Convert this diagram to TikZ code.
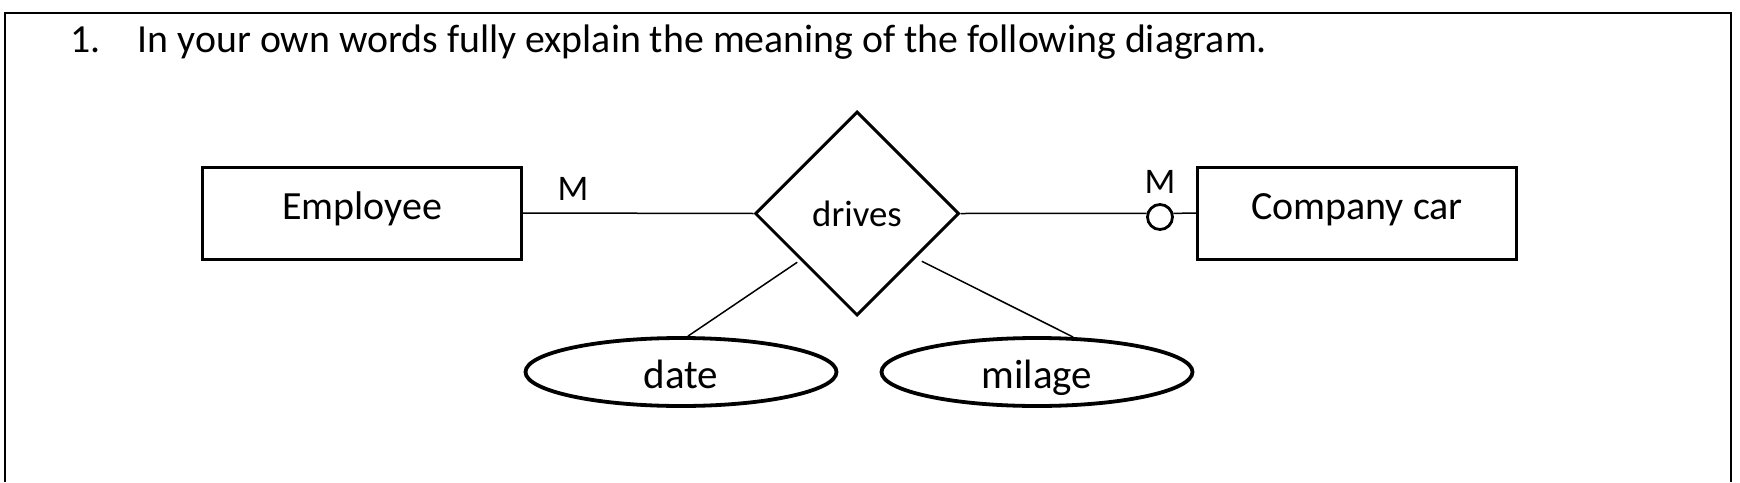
\documentclass[tikz,border=0pt]{standalone}
\usepackage{fontspec}
\setmainfont{Carlito}
\usetikzlibrary{shapes.geometric, positioning, calc}

\tikzset{
  entbox/.style={draw, line width=1.5pt, minimum width=159.5pt, minimum height=46pt, inner sep=0pt,
    text height=13pt, text depth=6.5pt, font=\fontsize{20}{24}\selectfont},
  relshape/.style={diamond, draw, line width=1.5pt, minimum width=102pt, minimum height=102pt, inner sep=0pt,
    font=\fontsize{18.4}{22}\selectfont},
  attrell/.style={ellipse, draw, line width=1.9pt, minimum width=155.5pt, minimum height=34pt, inner sep=0pt,
    text height=16.3pt, text depth=0pt, font=\fontsize{20.5}{24}\selectfont},
  card/.style={inner sep=0pt, font=\fontsize{18}{21}\selectfont},
  link/.style={line width=0.75pt}
}

\begin{document}
\begin{tikzpicture}[x=0.5pt,y=-0.5pt]
  \path[use as bounding box] (0,0) rectangle (1740,482);
  \draw[line width=1pt] (4.5,482) -- (4.5,13) -- (1731,13) -- (1731,482);

  % question
  \node[anchor=base west, inner sep=0pt, font=\fontsize{19.9}{24}\selectfont] (num) at (70,52) {1.};
  \node[anchor=base west, inner sep=0pt, font=\fontsize{19.9}{24}\selectfont] (question) at (137.5,52)
    {In your own words fully explain the meaning of the following diagram.};

  % entities, relationship, attributes
  \node[entbox] (emp) at (362,213) {Employee};
  \node[entbox] (car) at (1357,213) {Company car};
  \node[relshape] (drv) at (857,213.5) {drives};
  \node[attrell] (date) at (681,372) {date};
  \node[attrell] (mil) at (1037,372) {milage};
  \node[circle, draw, line width=1.4pt, minimum size=12.5pt, inner sep=0pt] (opt) at (1160,217) {};

  \draw[link] (emp.east) -- (drv.west);
  \draw[link] (drv.east) -- (opt.165);
  \draw[link] (opt.15) -- (car.west);
  \draw[link] ([shift={(-8,-3)}]drv.south west) -- (date.79);
  \draw[link] ([shift={(13,-4)}]drv.south east) -- (mil.44);

  \node[card] (m1) at (573,189) {M};
  \node[card] (m2) at (1160,182) {M};
\end{tikzpicture}
\end{document}
